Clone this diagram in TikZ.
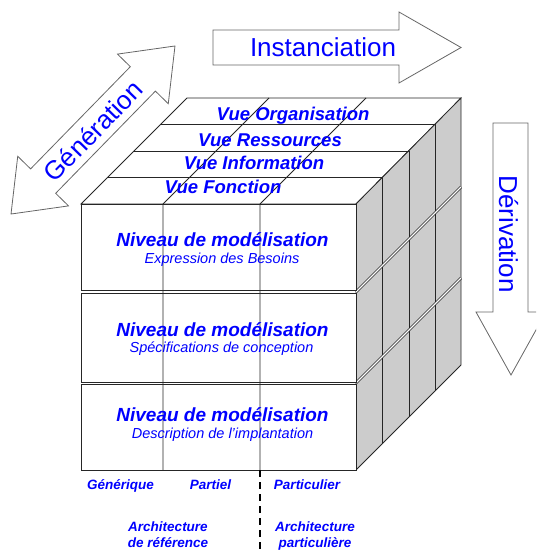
\documentclass[tikz,border=0pt]{standalone}
\usepackage{fontspec}
\setmainfont{Liberation Sans}
\tikzset{
  fleche/.style={draw=black!60, fill=white, line width=0.8pt},
  arete/.style={draw=black!85, line width=0.8pt},
  sens/.style={text=blue, font=\fontsize{26}{28}\selectfont, inner sep=0pt},
  vue/.style={text=blue, font=\fontsize{18.5}{20}\selectfont\bfseries\itshape, anchor=base, inner sep=0pt},
  niveau/.style={text=blue, font=\fontsize{19}{21}\selectfont\bfseries\itshape, anchor=base, inner sep=0pt},
  detail/.style={text=blue, font=\fontsize{14.5}{16}\selectfont\itshape, anchor=base, inner sep=0pt},
  legende/.style={text=blue, font=\fontsize{13.5}{16}\selectfont\bfseries\itshape, inner sep=0pt, align=center},
}

\begin{document}
\begin{tikzpicture}[x=1pt,y=-1pt]
\useasboundingbox (0,0) rectangle (536,551);
\clip (0,0) rectangle (536,551);

% les trois fleches
\draw[fleche] (213,30) -- (399,30) -- (399,12) -- (461,47.5) -- (399,83) -- (399,65) -- (213,65) -- cycle;
\begin{scope}[shift={(93,130)}, rotate=45.7]
\draw[fleche] (117.4,0) -- (71.4,35.5) -- (71.4,17.5) -- (-71.4,17.5) -- (-71.4,35.5) -- (-117.4,0)
  -- (-71.4,-35.5) -- (-71.4,-17.5) -- (71.4,-17.5) -- (71.4,-35.5) -- cycle;
\end{scope}
\draw[fleche] (493,123) -- (528,123) -- (528,312) -- (546,312) -- (511,375) -- (476,312) -- (493,312) -- cycle;

\node[sens] (instanciation) at (323,47.5) {Instanciation};
\node[sens, rotate=45.7] (generation) at (93,131) {Génération};
\node[sens, rotate=-90] (derivation) at (508.5,234) {Dérivation};

% le cube
\filldraw[arete, fill=white] (81,204) -- (187,98) -- (461,98) -- (356,204) -- cycle;
\filldraw[arete, fill=black!20] (356,204) -- (461,98) -- (461,365) -- (356,470) -- cycle;
\foreach \d in {26.5,53,79.5}
  \draw[arete] (81+\d,204-\d) -- (356+\d,204-\d) -- (356+\d,470-\d);
\draw[arete, double=white, double distance=1.2pt] (356,292) -- (461,187);
\draw[arete, double=white, double distance=1.2pt] (356,383) -- (461,278);
\draw[arete, fill=white] (81,204) rectangle (356,290.5);
\draw[arete, fill=white] (81,293) rectangle (356,382);
\draw[arete, fill=white] (81,384.5) rectangle (356,470);
\foreach \x in {163,260}
  \draw[arete] (\x,470) -- (\x,204) -- (\x+106,98);
\draw[line width=2.5pt, dash pattern=on 7pt off 5pt] (260,470) -- (260,551);

% les vues
\node[vue] (fonction) at (223,193) {Vue Fonction};
\node[vue] (information) at (254,169) {Vue Information};
\node[vue] (ressources) at (270,146) {Vue Ressources};
\node[vue] (organisation) at (293,120) {Vue Organisation};

% les niveaux
\node[niveau] (niveau1) at (222.5,246.5) {Niveau de modélisation};
\node[detail] (besoins) at (222,263.5) {Expression des Besoins};
\node[niveau] (niveau2) at (222.5,336.5) {Niveau de modélisation};
\node[detail] (specifications) at (221.5,352.5) {Spécifications de conception};
\node[niveau] (niveau3) at (222.5,421.5) {Niveau de modélisation};
\node[detail] (implantation) at (222.5,438) {Description de l'implantation};

% legendes
\node[legende, anchor=base] (generique) at (120.5,489) {Générique};
\node[legende, anchor=base] (partiel) at (210.5,489) {Partiel};
\node[legende, anchor=base] (particulier) at (307,489) {Particulier};
\node[legende, anchor=north] (reference) at (168,521.5) {Architecture\\de référence};
\node[legende, anchor=north] (particuliere) at (315,521.5) {Architecture\\particulière};
\end{tikzpicture}
\end{document}
